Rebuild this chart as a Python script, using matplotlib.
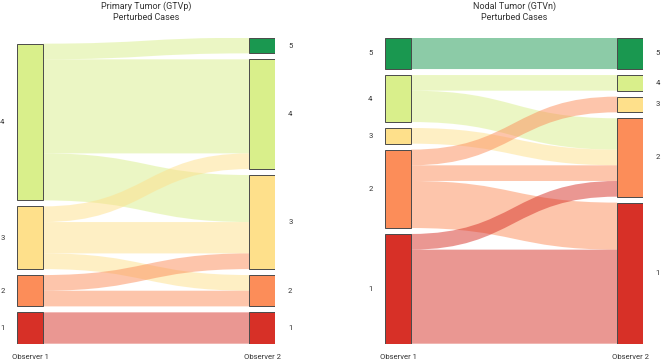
import matplotlib
matplotlib.use("Agg")
import matplotlib.pyplot as plt
from matplotlib.path import Path
from matplotlib.patches import PathPatch, Rectangle

plt.rcParams['font.family'] = ['Roboto', 'DejaVu Sans']

# Ratings 1..5 and their colours (RdYlGn)
ratings = [1, 2, 3, 4, 5]
rating_colors = ['#d73027', '#fc8d59', '#fee08b', '#d9ef8b', '#1a9850']

# Primary tumor (GTVp) flows: observer 1 -> observer 2
gtvp_source = [4, 4, 4, 3, 3, 3, 2, 2, 1]
gtvp_target = [5, 4, 3, 4, 3, 2, 3, 2, 1]
gtvp_count = [1, 6, 3, 1, 2, 1, 1, 1, 2]

# Nodal tumor (GTVn) flows
gtvn_source = [5, 4, 4, 3, 2, 2, 2, 1, 1]
gtvn_target = [5, 4, 2, 2, 3, 2, 1, 2, 1]
gtvn_count = [2, 1, 2, 1, 1, 1, 3, 1, 6]

titles = ["Primary Tumor (GTVp)\nPerturbed Cases", "Nodal Tumor (GTVn)\nPerturbed Cases"]
axis_labels = ["Observer 1", "Observer 2"]

GAP = 0.38        # gap between nodes, in case units
BAR_W = 0.1       # node width, fraction of panel
TXT = '#333333'


def layout(nodes, counts):
    totals = {}
    for n, c in zip(nodes, counts):
        totals[n] = totals.get(n, 0) + c
    pos = {}
    y = 0
    for r in sorted(totals):
        pos[r] = [y, y + totals[r]]
        y += totals[r] + GAP
    return pos


def band(x0, x1, y0t, y0b, y1t, y1b):
    xm = (x0 + x1) / 2
    verts = [(x0, y0t), (xm, y0t), (xm, y1t), (x1, y1t),
             (x1, y1b), (xm, y1b), (xm, y0b), (x0, y0b), (x0, y0t)]
    codes = [Path.MOVETO, Path.CURVE4, Path.CURVE4, Path.CURVE4,
             Path.LINETO, Path.CURVE4, Path.CURVE4, Path.CURVE4, Path.CLOSEPOLY]
    return Path(verts, codes)


def draw_sankey(ax, src, tgt, cnt, title):
    left = layout(src, cnt)
    right = layout(tgt, cnt)
    col = dict(zip(ratings, rating_colors))

    # stack outgoing links from the top of each node
    left_cur = {r: v[1] for r, v in left.items()}
    right_cur = {r: v[1] for r, v in right.items()}
    out_order = sorted(range(len(src)), key=lambda i: (-src[i], -tgt[i]))
    y_out = {}
    for i in out_order:
        y_out[i] = (left_cur[src[i]], left_cur[src[i]] - cnt[i])
        left_cur[src[i]] -= cnt[i]
    in_order = sorted(range(len(src)), key=lambda i: (-tgt[i], -src[i]))
    y_in = {}
    for i in in_order:
        y_in[i] = (right_cur[tgt[i]], right_cur[tgt[i]] - cnt[i])
        right_cur[tgt[i]] -= cnt[i]

    for i in range(len(src)):
        p = band(BAR_W, 1 - BAR_W, y_out[i][0], y_out[i][1], y_in[i][0], y_in[i][1])
        ax.add_patch(PathPatch(p, facecolor=col[src[i]], edgecolor='none', alpha=0.5))

    for pos, x, lx in [(left, 0, -0.058), (right, 1 - BAR_W, 1.058)]:
        for r, (b, t) in pos.items():
            ax.add_patch(Rectangle((x, b), BAR_W, t - b, facecolor=col[r],
                                   edgecolor='#4a4a4a', lw=0.7))
            ax.text(lx, (b + t) / 2, str(r), ha='center', va='center',
                    fontsize=5.5, color=TXT, clip_on=False)

    for x, lab in zip([BAR_W / 2, 1 - BAR_W / 2], axis_labels):
        ax.annotate(lab, xy=(x, 0), xycoords=('data', 'axes fraction'),
                    xytext=(0, -9.5), textcoords='offset points',
                    ha='center', va='center', fontsize=5.5, color=TXT)

    ymax = max(sum(cnt) + (len(left) - 1) * GAP, sum(cnt) + (len(right) - 1) * GAP)
    ax.set_xlim(0, 1)
    ax.set_ylim(0, ymax)
    ax.axis('off')
    bb = ax.get_position()
    ax.figure.text((bb.x0 + bb.x1) / 2, 1 - 11.7 / 360, title, ha='center', va='center',
                   fontsize=6.5, color=TXT, linespacing=1.25)


fig = plt.figure(figsize=(6.61, 3.6), dpi=100)
ax1 = fig.add_axes([17.3 / 661, 16.3 / 360, 258 / 661, 306 / 360])
ax2 = fig.add_axes([385.3 / 661, 16.3 / 360, 257.7 / 661, 306 / 360])

draw_sankey(ax1, gtvp_source, gtvp_target, gtvp_count, titles[0])
draw_sankey(ax2, gtvn_source, gtvn_target, gtvn_count, titles[1])

fig.savefig("out.png", dpi=100)
